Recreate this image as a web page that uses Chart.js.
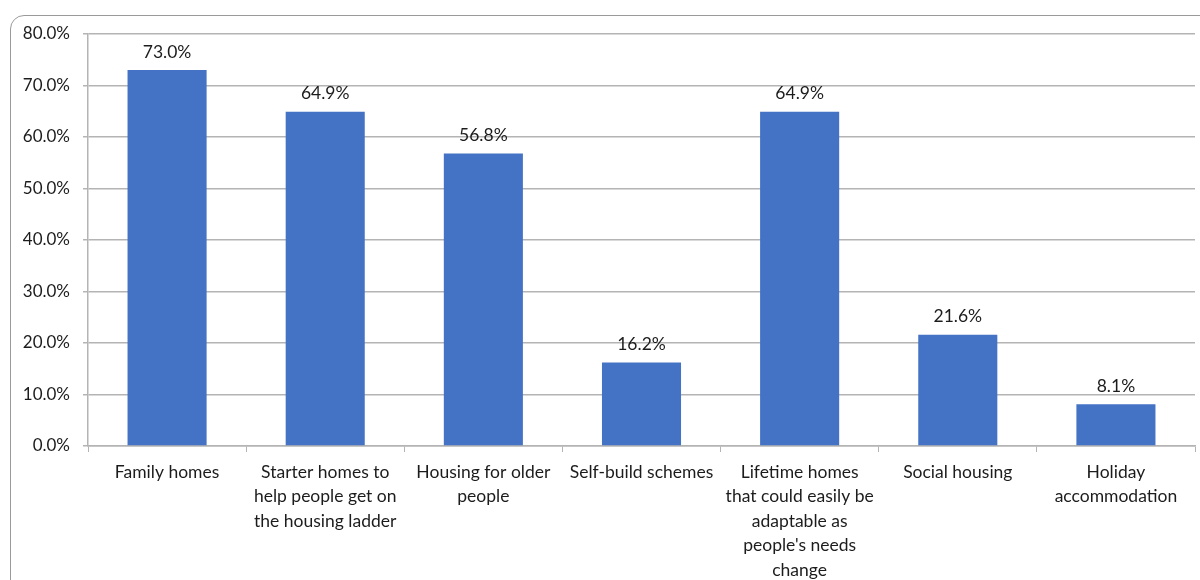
<!DOCTYPE html>
<html>
<head>
  <script src="https://cdn.jsdelivr.net/npm/chart.js@4/dist/chart.umd.min.js"></script>
  <style>
    body { margin: 0; overflow: hidden; background: #fff; }
    #frame { position: absolute; left: 10px; top: 15px; width: 1300px; height: 700px;
             border: 1.5px solid #9a9a9a; border-radius: 14px; }
    #housingChart { position: absolute; left: 0; top: 0; }
  </style>
</head>
<body>

<div id="frame"></div>
<canvas id="housingChart" width="1200" height="580"></canvas>

<script>
var housingTypes = [
  "Family homes",
  ["Starter homes to", "help people get on", "the housing ladder"],
  ["Housing for older", "people"],
  "Self-build schemes",
  ["Lifetime homes", "that could easily be", "adaptable as", "people's needs", "change"],
  "Social housing",
  ["Holiday", "accommodation"]
];
var percentSupport = [73.0, 64.9, 56.8, 16.2, 64.9, 21.6, 8.1];
var yMin = 0, yMax = 80, yStep = 10;

var fontFamily = "Lato, 'Open Sans', sans-serif";
var textColor = "#1c1c1c";
var lineColor = "#b4b4b4";

// draws the value above each bar
var barValueLabels = {
  id: "barValueLabels",
  afterDatasetsDraw: function(chart) {
    var ctx = chart.ctx;
    var meta = chart.getDatasetMeta(0);
    ctx.save();
    ctx.font = "17.5px " + fontFamily;
    ctx.fillStyle = textColor;
    ctx.textAlign = "center";
    ctx.textBaseline = "middle";
    meta.data.forEach(function(bar, i) {
      ctx.fillText(percentSupport[i].toFixed(1) + "%", bar.x, bar.y - 18);
    });
    ctx.restore();
  }
};

var ctx = document.getElementById("housingChart").getContext("2d");
var housingChart = new Chart(ctx, {
  type: "bar",
  data: {
    labels: housingTypes,
    datasets: [{
      data: percentSupport,
      backgroundColor: "#4472C4",
      barPercentage: 0.5,
      categoryPercentage: 1.0
    }]
  },
  options: {
    responsive: false,
    animation: false,
    layout: { padding: { top: 34, right: 5, left: 0, bottom: 0 } },
    plugins: {
      legend: { display: false },
      tooltip: { enabled: false }
    },
    scales: {
      x: {
        afterFit: function(scale) { scale.height = 134; },
        grid: {
          offset: true,
          drawOnChartArea: false,
          drawTicks: true,
          tickLength: 6,
          color: lineColor
        },
        border: { color: lineColor, width: 1.5 },
        ticks: {
          autoSkip: false,
          maxRotation: 0,
          padding: 8,
          color: textColor,
          font: { family: fontFamily, size: 17.5, lineHeight: 1.4 }
        }
      },
      y: {
        min: yMin,
        max: yMax,
        afterFit: function(scale) { scale.width = 88; },
        grid: {
          color: lineColor,
          lineWidth: 1.5,
          tickLength: 5
        },
        border: { color: lineColor, width: 1.5 },
        ticks: {
          stepSize: yStep,
          padding: 13,
          color: textColor,
          font: { family: fontFamily, size: 17 },
          callback: function(v) { return v.toFixed(1) + "%"; }
        }
      }
    }
  },
  plugins: [barValueLabels]
});
</script>

</body>
</html>
